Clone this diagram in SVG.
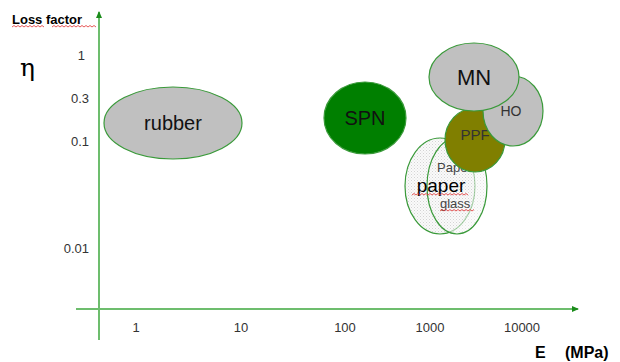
<svg xmlns="http://www.w3.org/2000/svg" width="620" height="362" viewBox="0 0 620 362">
<defs>
<style>
.ax{stroke:#6dbd6d;stroke-width:2;fill:none}
.lbl{font-family:"Liberation Sans",Arial,sans-serif;font-size:13px;fill:#333}
.node{stroke:#3a9a3a;stroke-width:1.2}
.t{font-family:"Liberation Sans",Arial,sans-serif;text-anchor:middle}
.sq{stroke:#e03030;stroke-width:0.8;fill:none}
</style>
<marker id="ah" markerWidth="8" markerHeight="8" refX="6" refY="4" orient="auto" markerUnits="userSpaceOnUse">
<path d="M0,1 L7,4 L0,7 Z" fill="#1a8c1a"/>
</marker>
<pattern id="dots" width="3" height="3" patternUnits="userSpaceOnUse">
<rect width="3" height="3" fill="#fafafa"/>
<rect x="0" y="0" width="1" height="1" fill="#d4d4d4"/>
<rect x="1.5" y="1.5" width="1" height="1" fill="#e0e0e0"/>
</pattern>
</defs>
<rect width="620" height="362" fill="#ffffff"/>
<g id="axes">
<line class="ax" x1="99" y1="340" x2="99" y2="12" marker-end="url(#ah)"/>
<line class="ax" x1="76" y1="309" x2="578" y2="309" marker-end="url(#ah)"/>
</g>
<g id="axis-labels">
<text x="12" y="24" style="font-family:'Liberation Sans',Arial,sans-serif;font-size:13px;font-weight:bold;fill:#000">Loss factor</text>
<path class="sq" d="M12,27 l2,-1.5 l2,1.5 l2,-1.5 l2,1.5 l2,-1.5 l2,1.5 l2,-1.5 l2,1.5 l2,-1.5 l2,1.5 l2,-1.5 l2,1.5 l2,-1.5 l2,1.5 l2,-1.5 l2,1.5 M52,27 l2,-1.5 l2,1.5 l2,-1.5 l2,1.5 l2,-1.5 l2,1.5 l2,-1.5 l2,1.5 l2,-1.5 l2,1.5 l2,-1.5 l2,1.5 l2,-1.5 l2,1.5 l2,-1.5 l2,1.5 l2,-1.5 l2,1.5 l2,-1.5 l2,1.5 l2,-1.5 l2,1.5"/>
<text x="20" y="76" style="font-family:'DejaVu Serif',serif;font-size:25px;fill:#000">η</text>
<text class="lbl" x="85" y="60" text-anchor="end">1</text>
<text class="lbl" x="89" y="103" text-anchor="end">0.3</text>
<text class="lbl" x="89" y="146" text-anchor="end">0.1</text>
<text class="lbl" x="89" y="253" text-anchor="end">0.01</text>
<text class="lbl" x="136" y="332" text-anchor="middle">1</text>
<text class="lbl" x="241" y="332" text-anchor="middle">10</text>
<text class="lbl" x="345" y="332" text-anchor="middle">100</text>
<text class="lbl" x="430" y="332" text-anchor="middle">1000</text>
<text class="lbl" x="522" y="332" text-anchor="middle">10000</text>
<text x="535" y="358" style="font-family:'Liberation Sans',Arial,sans-serif;font-size:16px;font-weight:bold;fill:#000">E</text>
<text x="565" y="358" style="font-family:'Liberation Sans',Arial,sans-serif;font-size:16px;font-weight:bold;fill:#000">(MPa)</text>
</g>
<g id="rubber">
<ellipse class="node" cx="173" cy="123" rx="69" ry="36" fill="#c0c0c0"/>
<text class="t" x="173" y="130" font-size="20" fill="#111">rubber</text>
</g>
<g id="SPN">
<ellipse class="node" cx="365" cy="118" rx="41" ry="36" fill="#007f00"/>
<text class="t" x="365" y="125" font-size="20" fill="#111">SPN</text>
</g>
<g id="paper">
<ellipse class="node" cx="440" cy="186" rx="35" ry="48" fill="url(#dots)"/>
<ellipse class="node" cx="457" cy="186" rx="30" ry="48" fill="url(#dots)" fill-opacity="0.6"/>
<text x="437" y="172" style="font-family:'Liberation Sans',Arial,sans-serif;font-size:13px;fill:#444">Pape</text>
<text class="t" x="441" y="192" font-size="19" fill="#000">paper</text>
<text x="440" y="208" style="font-family:'Liberation Sans',Arial,sans-serif;font-size:13px;fill:#444">glass</text>
<path class="sq" d="M412,195 l2,-1.5 l2,1.5 l2,-1.5 l2,1.5 l2,-1.5 l2,1.5 l2,-1.5 l2,1.5 l2,-1.5 l2,1.5 l2,-1.5 l2,1.5 l2,-1.5 l2,1.5 l2,-1.5 l2,1.5 l2,-1.5 l2,1.5 l2,-1.5 l2,1.5 l2,-1.5 l2,1.5 l2,-1.5 l2,1.5 l2,-1.5 l2,1.5 l2,-1.5 l2,1.5 M440,211 l2,-1.5 l2,1.5 l2,-1.5 l2,1.5 l2,-1.5 l2,1.5 l2,-1.5 l2,1.5 l2,-1.5 l2,1.5 l2,-1.5 l2,1.5 l2,-1.5 l2,1.5 l2,-1.5 l2,1.5 l2,-1.5"/>
</g>
<g id="PPF">
<ellipse class="node" cx="475" cy="140" rx="30" ry="32" fill="#807f00"/>
<text class="t" x="475" y="140" font-size="15" fill="#333">PPF</text>
</g>
<g id="HO">
<ellipse class="node" cx="513" cy="111" rx="30" ry="35" fill="#c0c0c0"/>
<text class="t" x="511" y="116" font-size="14" fill="#333">HO</text>
</g>
<g id="MN">
<ellipse class="node" cx="474" cy="77" rx="45" ry="34" fill="#c0c0c0"/>
<text class="t" x="474" y="85" font-size="22" fill="#111">MN</text>
</g>
</svg>
